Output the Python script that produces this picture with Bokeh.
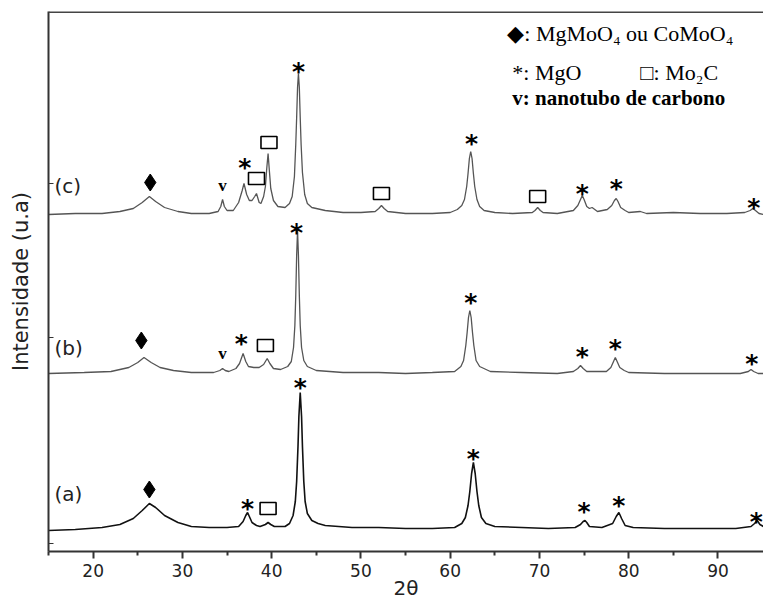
from bokeh.plotting import figure
from bokeh.models import FixedTicker, Span
from bokeh.core.properties import value
from bokeh.embed import file_html
from bokeh.resources import INLINE

# ---- data (2theta, intensity a.u. above each baseline) ----
x_c = [15, 18, 21, 23, 24.5, 25.5, 26.3, 27, 28, 29.5, 31, 33, 34, 34.3, 34.5, 34.7, 35, 35.7, 36.3, 36.7,
       36.9, 37.2, 37.5, 37.8, 38.1, 38.3, 38.6, 38.8, 39.1, 39.3, 39.45, 39.6, 39.75, 39.9, 40.2, 40.7,
       41.5, 42.0, 42.3, 42.55, 42.7, 42.8, 42.9, 43.0, 43.1, 43.2, 43.3, 43.45, 43.7, 44.0, 44.5, 46, 48,
       50, 51.6, 52.0, 52.3, 52.6, 53, 55, 58, 60, 60.8, 61.3, 61.6, 61.85, 62.0, 62.15, 62.3, 62.45, 62.6,
       62.75, 63.0, 63.3, 63.8, 65, 67, 69.2, 69.5, 69.8, 70.1, 70.4, 72, 73.8, 74.3, 74.6, 74.8, 75.0,
       75.3, 75.6, 75.9, 76.2, 76.5, 77.6, 78.1, 78.4, 78.6, 78.8, 79.1, 79.6, 80, 81.3, 82, 85, 88, 91,
       93, 93.6, 93.9, 94.2, 94.6, 95.1]
i_c = [2, 3, 3, 5, 8, 14, 20, 15, 9, 5, 3, 3, 5, 10, 17, 10, 6, 6, 14, 26,
       33, 22, 16, 16, 20, 23, 14, 13, 20, 30, 48, 63, 45, 28, 16, 10,
       9, 13, 20, 40, 72, 99, 129, 143, 129, 99, 72, 44, 22, 13, 9, 6, 4,
       4, 5, 8, 11, 8, 5, 3, 3, 4, 7, 11, 17, 30, 43, 58, 65, 58, 43,
       30, 17, 10, 6, 4, 3, 4, 6, 9, 6, 4, 3, 6, 11, 17, 21, 17,
       10, 8, 9, 7, 5, 7, 11, 16, 18, 15, 9, 6, 4, 5, 3, 4, 3, 3,
       4, 6, 8, 6, 3, 2]

x_b = [15, 19, 22, 24, 25, 25.7, 26.5, 27.5, 29, 31, 33.5, 34.2, 34.5, 34.8, 35.2, 36.0, 36.4, 36.8, 37.1,
       37.4, 38.0, 38.6, 39.1, 39.5, 39.8, 40.2, 41, 41.8, 42.2, 42.45, 42.6, 42.7, 42.8, 42.9, 43.0, 43.1,
       43.2, 43.35, 43.6, 44.0, 45, 48, 52, 55, 58, 60.5, 61.2, 61.5, 61.75, 61.9, 62.05, 62.2, 62.35, 62.5,
       62.65, 62.9, 63.3, 64.5, 68, 72, 73.8, 74.3, 74.6, 74.9, 75.3, 77.5, 78.0, 78.3, 78.5, 78.7, 79.0,
       79.5, 80, 84, 88, 92.5, 93.4, 93.7, 94.0, 94.5, 95.1]
i_b = [2, 3, 4, 8, 13, 18, 13, 8, 5, 3, 3, 5, 7, 5, 4, 7, 12, 22, 14,
       9, 8, 8, 11, 17, 12, 7, 6, 9, 14, 28, 50, 80, 120, 145, 120, 80,
       50, 28, 15, 9, 5, 3, 3, 2, 3, 4, 9, 15, 30, 43, 58, 65, 58, 43,
       30, 15, 9, 4, 3, 2, 4, 7, 10, 7, 4, 4, 8, 14, 18, 14, 8,
       5, 3, 2, 2, 2, 4, 6, 4, 2, 2]

x_a = [15, 18, 21, 23, 24.5, 25.5, 26.3, 27, 28, 29.5, 31, 33, 35, 36.3, 36.8, 37.1, 37.3, 37.5, 37.8,
       38.3, 38.7, 39.3, 39.6, 39.9, 40.3, 41.5, 42.0, 42.4, 42.65, 42.8, 42.95, 43.05, 43.2, 43.35, 43.45,
       43.6, 43.75, 44.0, 44.5, 45.2, 46, 49, 52, 55, 58, 60.5, 61.3, 61.7, 62.0, 62.2, 62.4, 62.6, 62.8,
       63.0, 63.2, 63.5, 64.0, 65, 68, 71, 74, 74.6, 74.9, 75.1, 75.3, 75.6, 77, 78.2, 78.6, 78.9, 79.2,
       79.6, 80.5, 84, 88, 92, 93.7, 94.1, 94.4, 94.7, 95.1]
i_a = [1, 2, 4, 7, 13, 21, 28, 24, 16, 9, 5, 4, 4, 5, 10, 16, 19, 15, 9,
       6, 5, 7, 9, 7, 5, 5, 8, 16, 30, 50, 85, 115, 139, 115, 85,
       50, 30, 18, 11, 8, 6, 4, 4, 3, 3, 4, 8, 14, 26, 40, 58, 69, 58,
       40, 26, 14, 8, 5, 4, 3, 4, 7, 10, 11, 9, 5, 4, 8, 15, 19, 13,
       6, 4, 3, 3, 3, 5, 8, 11, 7, 5]

offsets = {"a": 20, "b": 176, "c": 335}
trace_labels = ["(a)", "(b)", "(c)"]
label_y = [58, 204, 366]

# phase markers (2theta, height on the stacked scale)
star_x = [43.0, 37.0, 62.4, 74.8, 78.6, 94.0,
          42.8, 36.6, 62.3, 74.8, 78.5, 93.8,
          43.2, 37.3, 62.6, 75.0, 78.9, 94.3]
star_y = [486, 390, 414, 364, 369, 350,
          325, 214, 255, 201, 209, 194,
          170, 49, 99, 46, 52, 36]
square_x = [38.3, 39.7, 52.3, 69.8, 39.3, 39.6]
square_y = [373, 409, 358, 355, 206, 43]
diamond_x = [26.4, 25.4, 26.3]
diamond_y = [369, 211, 62]
v_x = [34.5, 34.5]
v_y = [366, 198]

x_ticks = [20, 30, 40, 50, 60, 70, 80, 90]
x_minor = [15, 25, 35, 45, 55, 65, 75, 85]
y_ticks = [8, 214, 368]

p = figure(width=763, height=603, x_range=(15, 95.1), y_range=(0, 540),
           output_backend="svg", toolbar_location=None,
           min_border_left=48, min_border_right=0, min_border_top=11, min_border_bottom=52)
p.outline_line_color = None
p.grid.visible = False
p.background_fill_color = "white"

# axes
p.xaxis.ticker = FixedTicker(ticks=x_ticks, minor_ticks=x_minor)
p.xaxis.axis_label = "2θ"
p.xaxis.axis_label_text_font = "DejaVu Sans"
p.xaxis.axis_label_text_font_size = "20px"
p.xaxis.axis_label_text_font_style = "normal"
p.xaxis.axis_label_text_color = "#222"
p.xaxis.axis_label_standoff = -4
p.xaxis.major_label_text_font = "DejaVu Sans"
p.xaxis.major_label_text_font_size = "17px"
p.xaxis.major_label_text_color = "#222"
p.xaxis.major_label_standoff = 5
p.xaxis.major_tick_out = 7
p.xaxis.major_tick_in = 0
p.xaxis.minor_tick_out = 4
p.xaxis.minor_tick_in = 0
p.xaxis.axis_line_width = 2
p.xaxis.axis_line_color = "#333"
p.xaxis.major_tick_line_width = 2
p.xaxis.minor_tick_line_width = 2
p.xaxis.major_tick_line_color = "#333"
p.xaxis.minor_tick_line_color = "#333"

p.yaxis.ticker = FixedTicker(ticks=y_ticks)
p.yaxis.major_label_text_font_size = "0px"
p.yaxis.major_tick_in = 5
p.yaxis.major_tick_out = 0
p.yaxis.minor_tick_line_color = None
p.yaxis.axis_line_width = 2
p.yaxis.axis_line_color = "#333"
p.yaxis.major_tick_line_color = "#333"
p.yaxis.axis_label = "Intensidade (u.a)"
p.yaxis.axis_label_text_font = "DejaVu Sans"
p.yaxis.axis_label_text_font_size = "21px"
p.yaxis.axis_label_text_font_style = "normal"
p.yaxis.axis_label_text_color = "#222"
p.yaxis.axis_label_standoff = 16

p.add_layout(Span(location=539.5, dimension="width", line_color="#444", line_width=2))

# traces
p.line(x_c, [offsets["c"] + v for v in i_c], line_color="#555", line_width=1.3)
p.line(x_b, [offsets["b"] + v for v in i_b], line_color="#555", line_width=1.3)
p.line(x_a, [offsets["a"] + v for v in i_a], line_color="#111", line_width=1.6)

# trace labels
p.text(x=[15.67] * 3, y=label_y, text=trace_labels, text_font=value("DejaVu Sans"),
       text_font_size="20px", text_color="#222", text_baseline="middle", text_align="left")

# markers
p.text(x=star_x, y=star_y, text=["*"] * len(star_x), text_font=value("DejaVu Sans"),
       text_font_size="25px", text_font_style="bold", text_color="black",
       text_align="center", text_baseline="middle", y_offset=6)
p.rect(x=square_x, y=square_y, width=16, height=12, width_units="screen", height_units="screen",
       fill_color="white", line_color="black", line_width=1.6)
p.scatter(x=diamond_x, y=diamond_y, marker="diamond", size=17, fill_color="black", line_color="black")
p.text(x=v_x, y=v_y, text=["v"] * len(v_x), text_font=value("Liberation Serif"),
       text_font_size="17px", text_font_style="bold", text_color="black",
       text_align="center", text_baseline="middle")

# legend text
serif = value("Liberation Serif")
p.text(x=[66.4], y=[518], text=["◆: MgMoO₄ ou CoMoO₄"], text_font=serif, text_font_size="22px",
       text_color="black", text_baseline="middle")
p.text(x=[66.96], y=[479], text=["*: MgO"], text_font=serif, text_font_size="22px",
       text_color="black", text_baseline="middle")
p.text(x=[81.3], y=[479], text=["□: Mo₂C"], text_font=serif, text_font_size="22px",
       text_color="black", text_baseline="middle")
p.text(x=[66.96], y=[454], text=["v: nanotubo de carbono"], text_font=serif, text_font_size="21px",
       text_font_style="bold", text_color="black", text_baseline="middle")

open("out.html", "w").write(file_html(p, INLINE))
